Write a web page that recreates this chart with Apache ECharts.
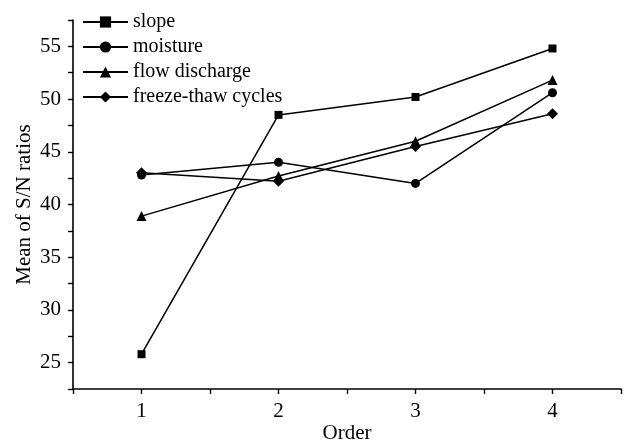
<!DOCTYPE html>
<html>
<head>
<meta charset="utf-8">
<script src="https://cdn.jsdelivr.net/npm/echarts@6/dist/echarts.min.js"></script>
<style>
  html, body { margin: 0; padding: 0; background: #fff; }
  #chart { width: 625px; height: 441px; }
</style>
</head>
<body>
<div id="chart"></div>
<script>
  // levels on the x axis (Order)
  const orders = [1, 2, 3, 4];
  // mean S/N ratio per factor and level
  const slope = [25.8, 48.5, 50.2, 54.8];
  const moisture = [42.8, 44.0, 42.0, 50.6];
  const flowDischarge = [38.9, 42.7, 46.0, 51.8];
  const freezeThaw = [43.0, 42.2, 45.5, 48.6];
  const seriesNames = ['slope', 'moisture', 'flow discharge', 'freeze-thaw cycles'];

  const FONT = '"Liberation Serif", "Times New Roman", serif';
  const chart = echarts.init(document.getElementById('chart'), null, { renderer: 'canvas' });

  const pairs = (ys) => ys.map((v, i) => [orders[i], v]);
  const mk = (name, ys, symbol, size) => ({
    name, type: 'line', data: pairs(ys),
    symbol, symbolSize: size, showSymbol: true,
    itemStyle: { color: '#000' },
    lineStyle: { color: '#000', width: 1.5 },
    emphasis: { disabled: true },
    animation: false,
  });

  chart.setOption({
    backgroundColor: '#fff',
    grid: { left: 73, right: 4, top: 20, bottom: 52, outerBoundsMode: 'none', containLabel: false },
    legend: {
      orient: 'vertical', left: 77, top: 7,
      itemWidth: 45, itemHeight: 14, itemGap: 5,
      textStyle: { fontFamily: FONT, fontSize: 20, color: '#000' },
      data: seriesNames,
    },
    xAxis: {
      type: 'value', min: 0.5, max: 4.5, interval: 0.5,
      name: 'Order', nameLocation: 'middle', nameGap: 34, nameMoveOverlap: false,
      nameTextStyle: { fontFamily: FONT, fontSize: 21, color: '#000' },
      axisLine: { lineStyle: { color: '#000', width: 1.6 } },
      axisTick: { length: 5, lineStyle: { color: '#000', width: 1.4 } },
      axisLabel: {
        fontFamily: FONT, fontSize: 21, color: '#000', margin: 12,
        formatter: (v) => (Number.isInteger(v) ? String(v) : ''),
      },
      splitLine: { show: false },
    },
    yAxis: {
      type: 'value', min: 22.5, max: 57.5, interval: 2.5,
      name: 'Mean of S/N ratios', nameLocation: 'middle', nameGap: 38, nameMoveOverlap: false,
      nameTextStyle: { fontFamily: FONT, fontSize: 21, color: '#000' },
      axisLine: { show: true, lineStyle: { color: '#000', width: 1.6 } },
      axisTick: { show: true, length: 5, lineStyle: { color: '#000', width: 1.4 } },
      axisLabel: {
        fontFamily: FONT, fontSize: 21, color: '#000', margin: 12,
        formatter: (v) => (v % 5 === 0 ? String(v) : ''),
      },
      splitLine: { show: false },
    },
    series: [
      mk(seriesNames[0], slope, 'rect', 8),
      mk(seriesNames[1], moisture, 'circle', 9),
      mk(seriesNames[2], flowDischarge, 'triangle', 10),
      mk(seriesNames[3], freezeThaw, 'diamond', 11),
    ],
  });
</script>
</body>
</html>
